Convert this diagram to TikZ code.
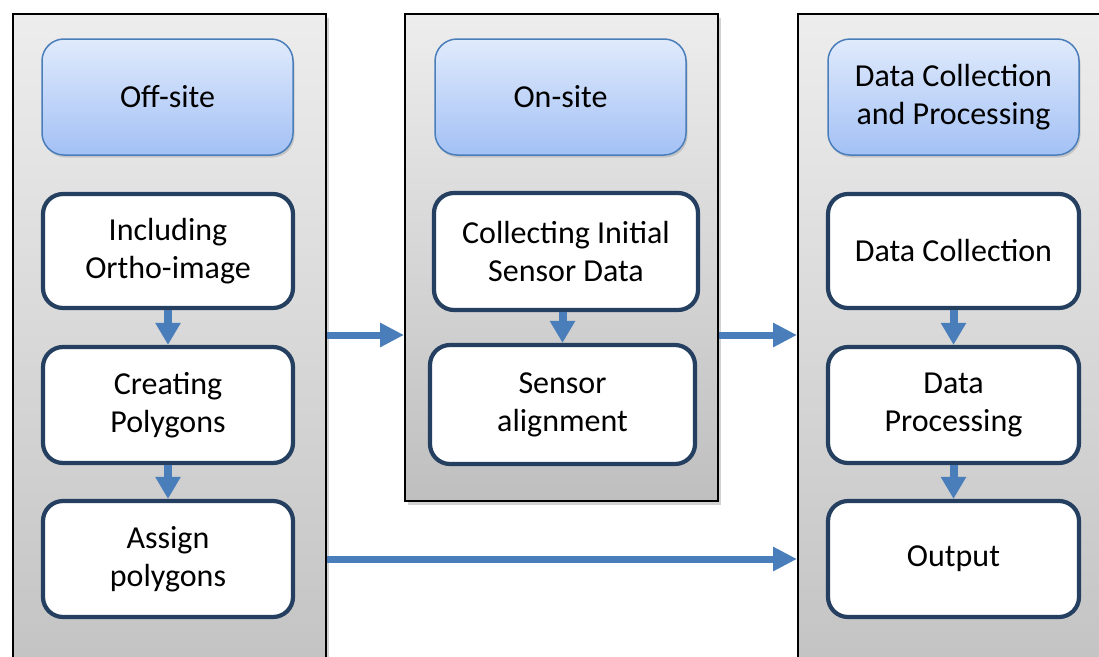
\documentclass[tikz,border=0pt]{standalone}
\usepackage{fontspec}
\setmainfont{Carlito}
\usetikzlibrary{arrows.meta,shadows}
\definecolor{panelTop}{HTML}{EDEDED}
\definecolor{panelBot}{HTML}{BFBFBF}
\definecolor{headTop}{HTML}{E0EAFC}
\definecolor{headBot}{HTML}{A3C1F5}
\definecolor{headLine}{HTML}{4A7EBB}
\definecolor{boxLine}{HTML}{243F60}
\definecolor{arrowCol}{HTML}{4A7EBB}
\tikzset{
  panel/.style={draw=black, line width=1.6pt, top color=panelTop, bottom color=panelBot,
    drop shadow={shadow xshift=3pt, shadow yshift=-4pt, opacity=0.35}},
  header/.style={draw=headLine, line width=1.5pt, rounded corners=22pt, top color=headTop, bottom color=headBot,
    align=center, font=\fontsize{32}{38}\selectfont,
    drop shadow={shadow xshift=1.5pt, shadow yshift=-2.5pt, opacity=0.3}},
  proc/.style={draw=boxLine, line width=4.2pt, rounded corners=20pt, fill=white,
    align=center, font=\fontsize{32}{38}\selectfont},
  bigarrow/.style={draw=arrowCol, line width=7pt, -{Triangle[length=24pt,width=23pt]}},
  smallarrow/.style={draw=arrowCol, line width=8pt, -{Triangle[length=22pt,width=24pt]}},
}
\begin{document}
\begin{tikzpicture}[x=1pt,y=-1pt]
\useasboundingbox (0,0) rectangle (1099,656);
\clip (0,0) rectangle (1099,656);
\fill[white] (0,0) rectangle (1099,656);
% panels
\node[panel, minimum width=313pt, minimum height=720pt, anchor=north west, inner sep=0pt] (lp) at (12,13) {};
\node[panel, minimum width=313pt, minimum height=487pt, anchor=north west, inner sep=0pt] (mp) at (404,13) {};
\node[panel, minimum width=330pt, minimum height=720pt, anchor=north west, inner sep=0pt] (rp) at (797,13) {};
% left column
\node[header, minimum width=251pt, minimum height=116pt] (h1) at (167.5,97) {Off-site};
\node[proc, minimum width=250pt, minimum height=114pt] (a1) at (168,251) {Including\\Ortho-image};
\node[proc, minimum width=250pt, minimum height=116pt] (a2) at (168,405) {Creating\\Polygons};
\node[proc, minimum width=250pt, minimum height=116pt] (a3) at (168,559) {Assign\\polygons};
% middle column
\node[header, minimum width=251pt, minimum height=116pt] (h2) at (560.5,97) {On-site};
\node[proc, minimum width=264pt, minimum height=117pt] (b1) at (566,251.5) {Collecting Initial\\Sensor Data};
\node[proc, minimum width=265pt, minimum height=119pt] (b2) at (562.5,404.5) {Sensor\\alignment};
% right column
\node[header, minimum width=251pt, minimum height=116pt] (h3) at (953.5,97) {Data Collection\\and Processing};
\node[proc, minimum width=251pt, minimum height=114pt] (c1) at (953.5,251) {Data Collection};
\node[proc, minimum width=251pt, minimum height=116pt] (c2) at (953.5,405) {Data\\Processing};
\node[proc, minimum width=251pt, minimum height=116pt] (c3) at (953.5,559) {Output};
% small arrows
\draw[smallarrow] (a1.south) -- (a2.north);
\draw[smallarrow] (a2.south) -- (a3.north);
\draw[smallarrow] (b1.south -| b2.north) -- (b2.north);
\draw[smallarrow] (c1.south) -- (c2.north);
\draw[smallarrow] (c2.south) -- (c3.north);
% big arrows
\coordinate (y1) at (0,335);
\coordinate (y2) at (0,559);
\draw[bigarrow] (lp.east |- y1) -- (mp.west |- y1);
\draw[bigarrow] (mp.east |- y1) -- (rp.west |- y1);
\draw[bigarrow] (lp.east |- y2) -- (rp.west |- y2);
\end{tikzpicture}
\end{document}
